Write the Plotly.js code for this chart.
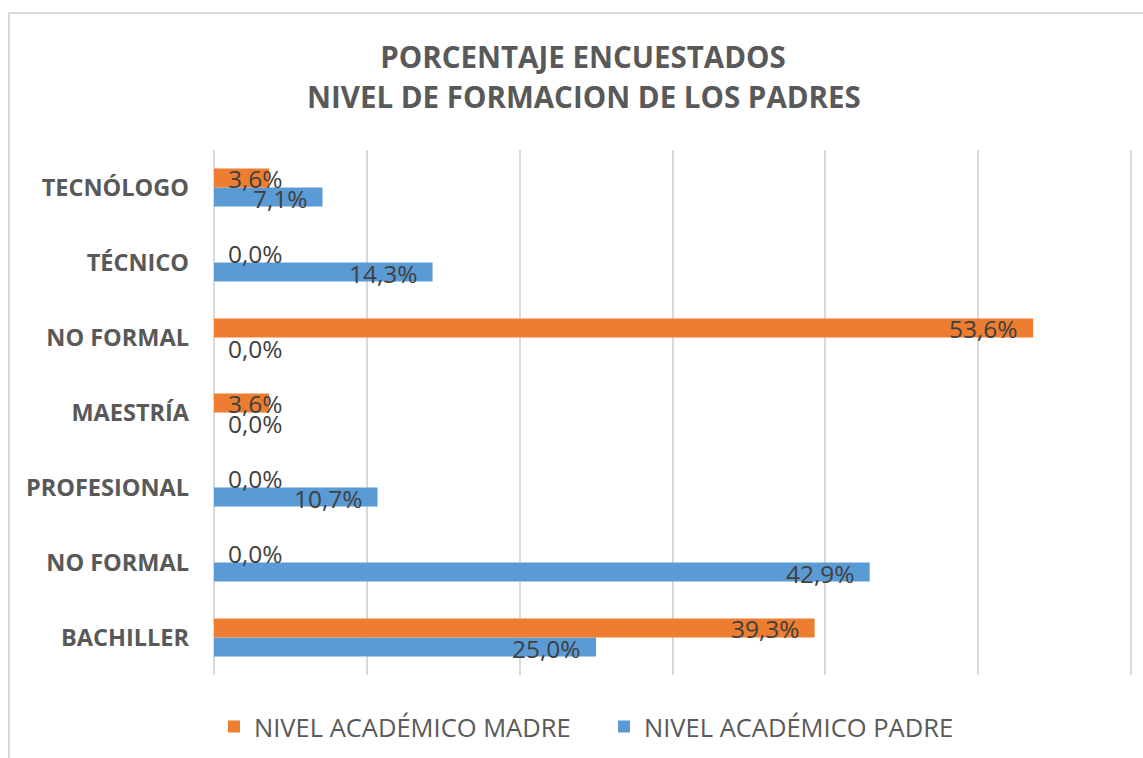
<!DOCTYPE html>
<html>
<head>
<meta charset="utf-8">
<script src="https://cdn.plot.ly/plotly-3.0.1.min.js"></script>
<style>
  html, body { margin: 0; padding: 0; background: #ffffff; }
  #wrap { position: relative; width: 1143px; height: 758px; overflow: hidden; }
  #chart { width: 1143px; height: 758px; }
  #frame { position: absolute; left: 8px; top: 12px; width: 1200px; height: 800px;
           border-top: 2px solid #d9d9d9; border-left: 2px solid #d9d9d9; pointer-events: none; }
</style>
</head>
<body>
<div id="wrap">
  <div id="chart"></div>
  <div id="frame"></div>
</div>
<script>
// ---- data (bottom to top) ----
const categories = ["BACHILLER", "NO FORMAL", "PROFESIONAL", "MAESTRÍA", "NO FORMAL", "TÉCNICO", "TECNÓLOGO"];
const madre = [39.3, 0.0, 0.0, 3.6, 53.6, 0.0, 3.6];
const padre = [25.0, 42.9, 10.7, 0.0, 0.0, 14.3, 7.1];
const seriesNames = ["NIVEL ACADÉMICO MADRE", "NIVEL ACADÉMICO PADRE"];
const titleLines = ["PORCENTAJE ENCUESTADOS", "NIVEL DE FORMACION DE LOS PADRES"];

// ---- style ----
const FONT = "Open Sans, Lato, sans-serif";
const ORANGE = "#ED7D31";
const BLUE = "#5B9BD5";
const GRID = "#d9d9d9";
const TXT = "#595959";
const LBL = "#404040";
const W = 1143, H = 758;
const M = { l: 214, r: 7, t: 150, b: 83 };
const XGRIDMAX = 60;                       // last gridline (at 1131px)
const pxPerUnit = (1131 - M.l) / XGRIDMAX;
const plotW = W - M.l - M.r;
const XMAX = plotW / pxPerUnit;            // a few px of room so the 60% gridline shows
const BARGAP = 0.493;
const LABEL_SIZE = 24.5;

const pos = categories.map((c, i) => i);
const fmt = v => v.toFixed(1).replace(".", ",") + "%";

const traces = [
  { type: "bar", orientation: "h", name: seriesNames[1], x: padre, y: pos,
    marker: { color: BLUE }, hoverinfo: "skip", legendrank: 2 },
  { type: "bar", orientation: "h", name: seriesNames[0], x: madre, y: pos,
    marker: { color: ORANGE }, hoverinfo: "skip", legendrank: 1 }
];

// data labels: "inside end", pushed to the axis start when they do not fit
const off = (1 - BARGAP) / 4;
const annotations = [];
function addLabels(vals, dy) {
  vals.forEach((v, i) => {
    const t = fmt(v);
    const tw = t.length * 0.56 * LABEL_SIZE;
    const barPx = v * pxPerUnit;
    const fits = barPx - 15 - tw >= 14;
    annotations.push({
      x: fits ? v : 0, y: i + dy, xref: "x", yref: "y",
      text: t, showarrow: false,
      xanchor: fits ? "right" : "left", xshift: fits ? -13 : 12,
      yanchor: "middle", yshift: -1,
      font: { family: FONT, size: LABEL_SIZE, color: LBL }
    });
  });
}
addLabels(madre, off);
addLabels(padre, -off);

// second title line
annotations.push({
  xref: "paper", yref: "paper",
  x: (583.5 - M.l) / plotW, y: (H - M.b - 96) / (H - M.t - M.b),
  xanchor: "center", yanchor: "middle", showarrow: false,
  text: "<b>" + titleLines[1] + "</b>",
  font: { family: FONT, size: 29.5, color: TXT }
});

const layout = {
  width: W, height: H,
  margin: M,
  paper_bgcolor: "#ffffff", plot_bgcolor: "#ffffff",
  title: {
    text: "<b>" + titleLines[0] + "</b>",
    xref: "container", yref: "container",
    x: 583 / W, xanchor: "center",
    y: 1 - 58 / H, yanchor: "middle",
    font: { family: FONT, size: 29.5, color: TXT }
  },
  barmode: "group",
  bargap: BARGAP,
  bargroupgap: 0,
  showlegend: true,
  legend: {
    orientation: "h",
    x: 0.0, xanchor: "left",
    y: (H - M.b - 727) / (H - M.t - M.b), yanchor: "middle",
    entrywidth: 345, entrywidthmode: "pixels",
    font: { family: FONT, size: 25.5, color: TXT },
    bgcolor: "rgba(0,0,0,0)"
  },
  xaxis: {
    range: [0, XMAX], dtick: 10, tick0: 0,
    showticklabels: false, ticks: "",
    showgrid: true, gridcolor: GRID, gridwidth: 2,
    zeroline: true, zerolinecolor: GRID, zerolinewidth: 2,
    showline: false, fixedrange: true
  },
  yaxis: {
    range: [-0.5, categories.length - 0.5],
    tickmode: "array", tickvals: pos, ticktext: categories,
    ticks: "", ticklabelstandoff: 24,
    showgrid: false, zeroline: false, showline: false,
    tickfont: { family: FONT, size: 23.5, color: TXT, weight: "bold" },
    fixedrange: true
  },
  annotations: annotations
};

Plotly.newPlot("chart", traces, layout, { displayModeBar: false, staticPlot: true });
</script>
</body>
</html>
